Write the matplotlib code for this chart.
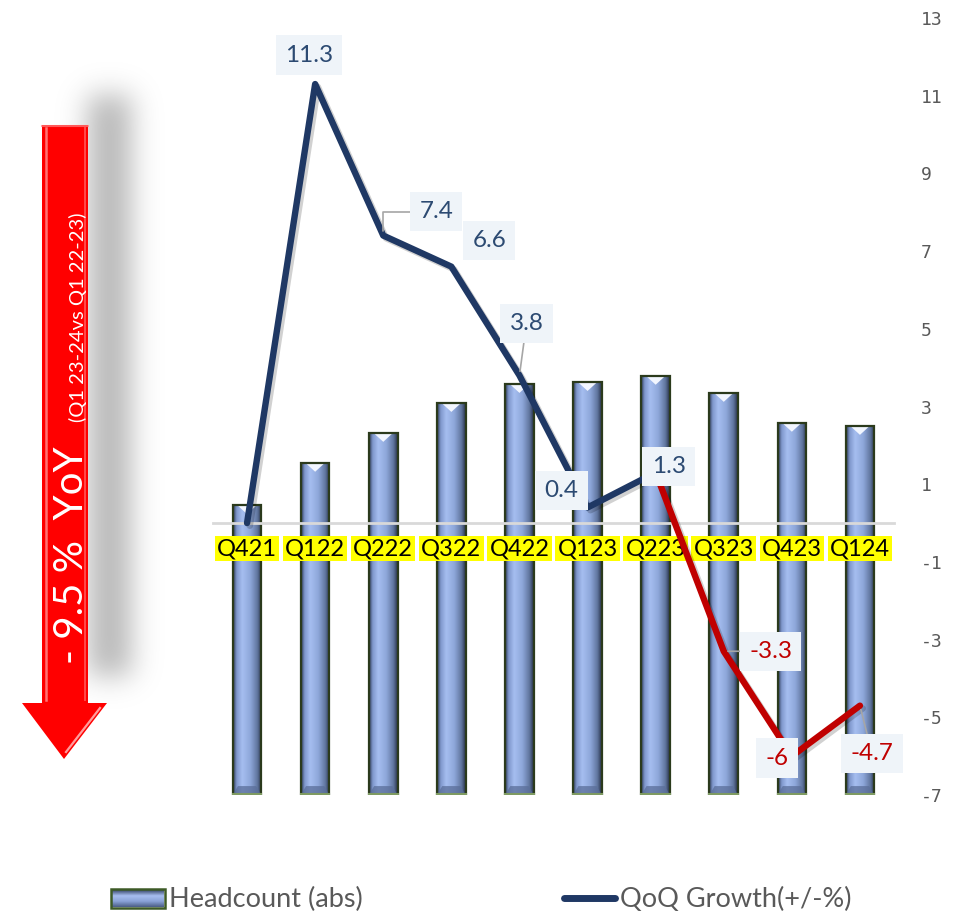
import numpy as np
import matplotlib
matplotlib.use('Agg')
import matplotlib.pyplot as plt
from matplotlib.colors import LinearSegmentedColormap
from matplotlib.patches import Polygon
import matplotlib.patheffects as pe

# ---------------- data ----------------
quarters = ['Q421', 'Q122', 'Q222', 'Q322', 'Q422', 'Q123', 'Q223', 'Q323', 'Q423', 'Q124']
headcount = [74.6, 85.5, 93.2, 100.9, 105.8, 106.3, 107.9, 103.5, 95.8, 95.0]
qoq_growth = [0.0, 11.3, 7.4, 6.6, 3.8, 0.4, 1.3, -3.3, -6.0, -4.7]
growth_labels = ['', '11.3', '7.4', '6.6', '3.8', '0.4', '1.3', '-3.3', '-6', '-4.7']
y_ticks = [13, 11, 9, 7, 5, 3, 1, -1, -3, -5, -7]
yoy_main = '- 9.5 %  YoY'
yoy_sub = '(Q1 23-24vs Q1 22-23)'
legend_bar = 'Headcount (abs)'
legend_line = 'QoQ Growth(+/-%)'
decline_start = 6  # from Q223 the line turns red

# label placement (pixel offsets from point) and leader style
label_offsets = [None, (-6, 29), (53, 24), (38, 26), (7, 52), (-26, 17), (13, 6), (47, 0), (-15, -2), (12, -48)]
leader = [None, None, 'angle', None, 'line', None, None, 'line', None, 'line']

plt.rcParams['axes.unicode_minus'] = False
FONT = ['Lato', 'DejaVu Sans']
NAVY = '#1f3864'
RED = '#c00000'

W, H = 966, 913
fig = plt.figure(figsize=(W / 100, H / 100), dpi=100)
fig.patch.set_facecolor('white')

# ---------------- overlay for decorations (pixel coords) ----------------
ov = fig.add_axes([0, 0, 1, 1], zorder=0)
ov.set_xlim(0, W)
ov.set_ylim(H, 0)
ov.axis('off')

# blurred shadow of the arrow
gx0, gx1, gy0, gy1 = 30, 220, 20, 760
xs = np.arange(gx0, gx1)
ys = np.arange(gy0, gy1)
XX, YY = np.meshgrid(xs, ys)
mask = ((XX >= 88) & (XX <= 130) & (YY >= 95) & (YY <= 675)).astype(float)
sig = 14
k = np.arange(-3 * sig, 3 * sig + 1)
ker = np.exp(-k ** 2 / (2 * sig ** 2))
ker /= ker.sum()
blur = np.apply_along_axis(lambda r: np.convolve(r, ker, mode='same'), 1, mask)
blur = np.apply_along_axis(lambda c: np.convolve(c, ker, mode='same'), 0, blur)
shadow = np.zeros(blur.shape + (4,))
shadow[..., :3] = 0.55
shadow[..., 3] = blur * 0.62
ov.imshow(shadow, extent=(gx0, gx1, gy1, gy0), origin='upper', zorder=1, interpolation='bilinear')

# red arrow
arrow_pts = [(42, 125), (88, 125), (88, 703), (107, 703), (64, 759), (22, 703), (42, 703)]
ov.add_patch(Polygon(arrow_pts, closed=True, facecolor='#ff0000', edgecolor='none', zorder=2))
ov.plot([45.5, 45.5], [128, 700], color='#ff8a8a', lw=1.8, zorder=3, alpha=0.85)
ov.plot([84.5, 84.5], [128, 700], color='#ff6a6a', lw=1.4, zorder=3, alpha=0.7)
ov.plot([100, 66], [708, 752], color='#ffb8b8', lw=1.6, zorder=3, alpha=0.85)
ov.plot([42, 88], [126.5, 126.5], color='#ff8080', lw=1.5, zorder=3, alpha=0.7)
ov.text(83, 664, yoy_main, rotation=90, rotation_mode='anchor', ha='left', va='baseline',
        color='white', fontsize=29, family=FONT, zorder=4)
ov.text(84, 422, yoy_sub, rotation=90, rotation_mode='anchor', ha='left', va='baseline',
        color='white', fontsize=14.5, family=FONT, zorder=4)

# ---------------- main axes ----------------
ax_bar = fig.add_axes([213 / W, 1 - 795 / H, 681 / W, 777 / H], zorder=1)
ax_bar.set_facecolor('none')
ax_line = ax_bar.twinx()

x = np.arange(len(quarters))
bar_w = 0.42
bars = ax_bar.bar(x, headcount, width=bar_w, color='none', edgecolor='#2b3a1c', linewidth=1.6, zorder=3)

bar_cmap = LinearSegmentedColormap.from_list(
    'bevel', [(0.0, '#2e3a55'), (0.12, '#7f98cc'), (0.32, '#a6bef0'), (0.6, '#8ea7da'),
              (0.85, '#61769f'), (1.0, '#27324a')])
grad = np.linspace(0, 1, 64)[None, :]
tri_h = 2.3
for p in bars.patches:
    bx, bw, bh = p.get_x(), p.get_width(), p.get_height()
    im = ax_bar.imshow(grad, extent=(bx, bx + bw, 0, bh), aspect='auto', cmap=bar_cmap,
                       zorder=2, interpolation='bicubic')
    im.set_clip_path(p)
    ax_bar.add_patch(Polygon([(bx + bw * 0.16, bh), (bx + bw * 0.84, bh), (bx + bw * 0.5, bh - tri_h)],
                             closed=True, facecolor='#f2f6ff', edgecolor='none', zorder=2.5))
    ax_bar.add_patch(Polygon([(bx, 0), (bx + bw, 0), (bx + bw * 0.82, tri_h), (bx + bw * 0.18, tri_h)],
                             closed=True, facecolor='#5a6e99', edgecolor='none', alpha=0.75, zorder=2.5))
    ax_bar.plot([bx, bx + bw], [0.3, 0.3], color='#7e9a62', lw=1.5, zorder=3.5)

ax_bar.set_xlim(-0.5, len(quarters) - 0.5)
ax_bar.set_ylim(0, 200)
ax_bar.xaxis.set_visible(False)
ax_bar.yaxis.set_visible(False)
for s in ax_bar.spines.values():
    s.set_visible(False)

# line axis
ax_line.set_ylim(-7, 13)
ax_line.set_yticks(y_ticks)
ax_line.set_yticklabels([str(t) for t in y_ticks], family=['DejaVu Sans Mono'], fontsize=13, color='#595959')
ax_line.tick_params(axis='y', length=0, pad=19)
for side in ['top', 'left', 'right']:
    ax_line.spines[side].set_visible(False)
ax_line.spines['bottom'].set_position(('data', 0))
ax_line.spines['bottom'].set_color('#d9d9d9')
ax_line.spines['bottom'].set_linewidth(2)
ax_line.xaxis.set_visible(True)
ax_line.set_xticks(x)
ax_line.set_xticklabels(quarters, family=FONT, fontsize=17, color='black')
ax_line.tick_params(axis='x', length=0, pad=11)
for lbl in ax_line.get_xticklabels():
    lbl.set_bbox(dict(facecolor='#ffff00', edgecolor='none', pad=1.5))

shadow_fx = [pe.SimpleLineShadow(offset=(2, -2), alpha=0.18, shadow_color='black'), pe.Normal()]
ax_line.plot(x[:decline_start + 1], qoq_growth[:decline_start + 1], color=NAVY, lw=4.6,
             solid_capstyle='round', solid_joinstyle='round', zorder=3, path_effects=shadow_fx)
ax_line.plot(x[decline_start:], qoq_growth[decline_start:], color=RED, lw=4.6,
             solid_capstyle='round', solid_joinstyle='round', zorder=3, path_effects=shadow_fx)
ax_line.plot(x[8], qoq_growth[8], 'o', color='#f08a24', ms=7, zorder=3.5)

for i, lab in enumerate(growth_labels):
    if not lab:
        continue
    v = qoq_growth[i]
    col = '#2c4a72' if v >= 0 else RED
    ap = None
    if leader[i] == 'angle':
        ap = dict(arrowstyle='-', color='#a6a6a6', lw=1.2, shrinkA=0, shrinkB=3,
                  connectionstyle='angle,angleA=0,angleB=90,rad=0')
    elif leader[i] == 'line':
        ap = dict(arrowstyle='-', color='#a6a6a6', lw=1.2, shrinkA=0, shrinkB=3)
    ax_line.annotate(lab, xy=(i, v), xytext=label_offsets[i], textcoords='offset pixels',
                     ha='center', va='center', fontsize=17.5, family=FONT, color=col, zorder=6,
                     bbox=dict(boxstyle='square,pad=0.38', facecolor='#eff4f9', edgecolor='none'),
                     arrowprops=ap)

# ---------------- legend (manual) ----------------
lg = np.linspace(0, 1, 32)[:, None]
leg_cmap = LinearSegmentedColormap.from_list('lg', ['#3c4c70', '#a8bff0', '#8aa2d6', '#4d5f88'])
ov.add_patch(Polygon([(111, 889), (165, 889), (165, 908), (111, 908)], closed=True,
                     facecolor='none', edgecolor='#3d5a26', lw=1.8, zorder=6))
ov.imshow(lg, extent=(112, 164, 907, 890), origin='upper', aspect='auto', cmap=leg_cmap, zorder=5)
ov.text(169, 899, legend_bar, ha='left', va='center', fontsize=19.5, family=FONT, color='#595959', zorder=6)
ov.plot([564, 615], [898, 898], color=NAVY, lw=5, solid_capstyle='round', zorder=6)
ov.text(620, 899, legend_line, ha='left', va='center', fontsize=19.5, family=FONT, color='#595959', zorder=6)

fig.savefig('out.png', dpi=100, facecolor='white')
